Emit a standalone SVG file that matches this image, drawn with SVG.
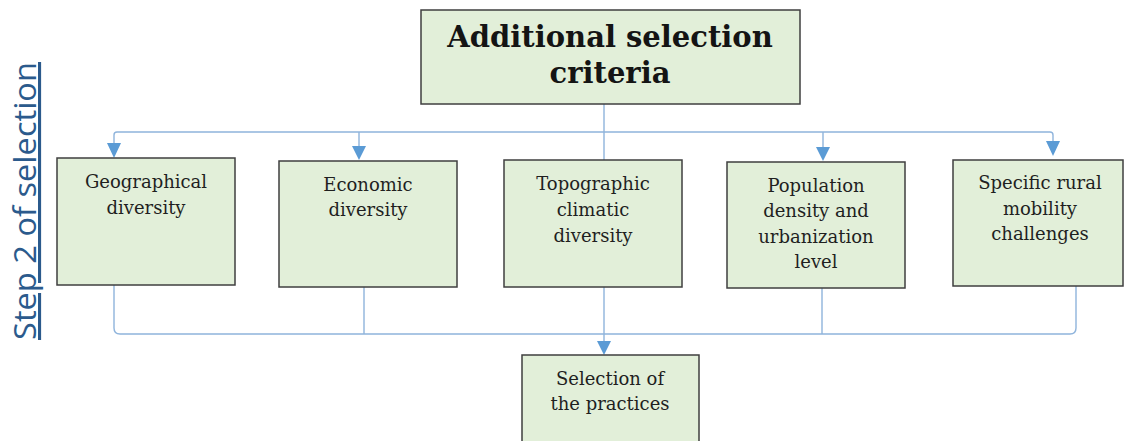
<svg xmlns="http://www.w3.org/2000/svg" width="1124" height="441" viewBox="0 0 1124 441">
  <style>
    .box { fill: #e2efd9; stroke: #3f3f3f; stroke-width: 1.5; }
    .lbl { font-family: "DejaVu Serif", Georgia, serif; font-size: 18px; fill: #1f1f1f; text-anchor: middle; }
    .title { font-family: "DejaVu Serif", Georgia, serif; font-size: 29px; font-weight: bold; fill: #141414; text-anchor: middle; }
    .wire { fill: none; stroke: #8fb4dc; stroke-width: 1.4; }
    .side { font-family: "Open Sans", "Liberation Sans", sans-serif; font-size: 31px; fill: #2b5a8c; text-decoration: underline; }
  </style>
  <rect width="1124" height="441" fill="#ffffff"/>

  <!-- vertical step label -->
  <text class="side" transform="translate(36,340) rotate(-90)" textLength="278" lengthAdjust="spacingAndGlyphs">Step 2 of selection</text>

  <!-- connectors -->
  <g id="connectors">
    <path class="wire" d="M604,104 V160"/>
    <path class="wire" d="M117,132 H1050 Q1053,132 1053,135"/>
    <path class="wire" d="M117,132 Q114,132 114,135 V145"/>
    <path class="wire" d="M359,132 V147"/>
    <path class="wire" d="M823,132 V148"/>
    <path class="wire" d="M1053,135 V142"/>
    <path class="wire" d="M114,285 V328 Q114,334 120,334 H1070 Q1076,334 1076,328 V286"/>
    <path class="wire" d="M364,282 V334"/>
    <path class="wire" d="M822,285 V334"/>
    <path class="wire" d="M604,287 V342"/>
    <g fill="#5b9bd5">
      <polygon points="107,143 121,143 114,158"/>
      <polygon points="352,146 366,146 359,160"/>
      <polygon points="816,147 830,147 823,161"/>
      <polygon points="1046,141 1060,141 1053,156"/>
      <polygon points="597,341 611,341 604,355"/>
    </g>
  </g>

  <g id="top">
    <rect class="box" x="421" y="10" width="379" height="94"/>
    <text class="title" x="610" y="47">Additional selection</text>
    <text class="title" x="610" y="83">criteria</text>
  </g>

  <g id="geographical">
    <rect class="box" x="57" y="158" width="178" height="127"/>
    <text class="lbl" x="146" y="188">Geographical</text>
    <text class="lbl" x="146" y="214">diversity</text>
  </g>

  <g id="economic">
    <rect class="box" x="279" y="161" width="178" height="126"/>
    <text class="lbl" x="368" y="191">Economic</text>
    <text class="lbl" x="368" y="216">diversity</text>
  </g>

  <g id="topographic">
    <rect class="box" x="504" y="160" width="178" height="127"/>
    <text class="lbl" x="593" y="190">Topographic</text>
    <text class="lbl" x="593" y="216">climatic</text>
    <text class="lbl" x="593" y="242">diversity</text>
  </g>

  <g id="population">
    <rect class="box" x="727" y="162" width="178" height="126"/>
    <text class="lbl" x="816" y="192">Population</text>
    <text class="lbl" x="816" y="217">density and</text>
    <text class="lbl" x="816" y="243">urbanization</text>
    <text class="lbl" x="816" y="268">level</text>
  </g>

  <g id="rural">
    <rect class="box" x="953" y="160" width="170" height="126"/>
    <text class="lbl" x="1040" y="189">Specific rural</text>
    <text class="lbl" x="1040" y="215">mobility</text>
    <text class="lbl" x="1040" y="240">challenges</text>
  </g>

  <g id="practices">
    <rect class="box" x="522" y="355" width="177" height="100"/>
    <text class="lbl" x="610" y="385">Selection of</text>
    <text class="lbl" x="610" y="410">the practices</text>
  </g>
</svg>
